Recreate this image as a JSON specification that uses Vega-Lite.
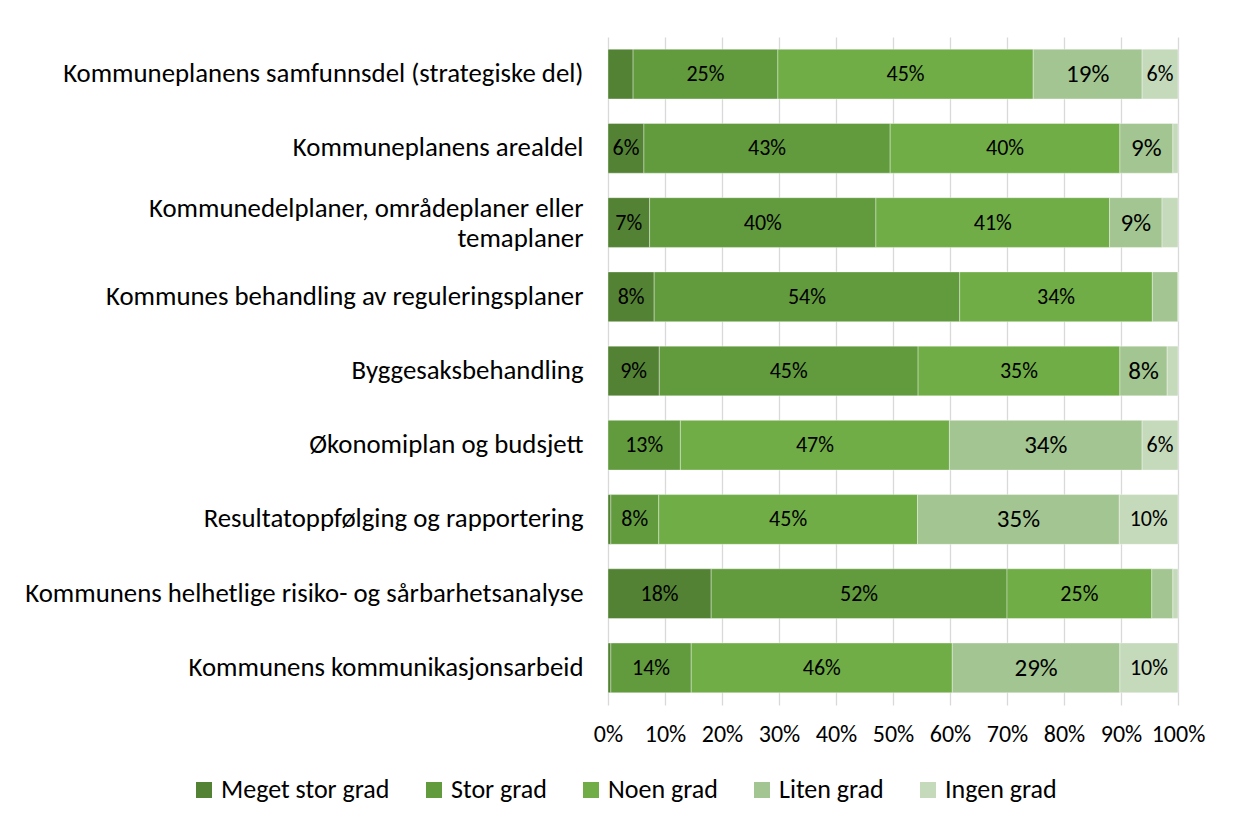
{
  "$schema": "https://vega.github.io/schema/vega-lite/v6.json",
  "width": 570,
  "height": 668,
  "autosize": {"type": "none"},
  "padding": {"left": 608, "top": 37, "right": 55, "bottom": 120},
  "background": "#ffffff",
  "config": {
    "font": "Carlito, Lato",
    "view": {"stroke": null}
  },
  "data": {
    "values": [
      {"item": "Kommuneplanens samfunnsdel (strategiske del)", "cat": "Meget stor grad", "v": 4.4},
      {"item": "Kommuneplanens samfunnsdel (strategiske del)", "cat": "Stor grad", "v": 25.4},
      {"item": "Kommuneplanens samfunnsdel (strategiske del)", "cat": "Noen grad", "v": 44.8},
      {"item": "Kommuneplanens samfunnsdel (strategiske del)", "cat": "Liten grad", "v": 19.1},
      {"item": "Kommuneplanens samfunnsdel (strategiske del)", "cat": "Ingen grad", "v": 6.3},
      {"item": "Kommuneplanens arealdel", "cat": "Meget stor grad", "v": 6.3},
      {"item": "Kommuneplanens arealdel", "cat": "Stor grad", "v": 43.2},
      {"item": "Kommuneplanens arealdel", "cat": "Noen grad", "v": 40.3},
      {"item": "Kommuneplanens arealdel", "cat": "Liten grad", "v": 9.3},
      {"item": "Kommuneplanens arealdel", "cat": "Ingen grad", "v": 0.9},
      {"item": "Kommunedelplaner, områdeplaner eller temaplaner", "cat": "Meget stor grad", "v": 7.3},
      {"item": "Kommunedelplaner, områdeplaner eller temaplaner", "cat": "Stor grad", "v": 39.7},
      {"item": "Kommunedelplaner, områdeplaner eller temaplaner", "cat": "Noen grad", "v": 41.0},
      {"item": "Kommunedelplaner, områdeplaner eller temaplaner", "cat": "Liten grad", "v": 9.2},
      {"item": "Kommunedelplaner, områdeplaner eller temaplaner", "cat": "Ingen grad", "v": 2.8},
      {"item": "Kommunes behandling av reguleringsplaner", "cat": "Meget stor grad", "v": 8.1},
      {"item": "Kommunes behandling av reguleringsplaner", "cat": "Stor grad", "v": 53.6},
      {"item": "Kommunes behandling av reguleringsplaner", "cat": "Noen grad", "v": 33.8},
      {"item": "Kommunes behandling av reguleringsplaner", "cat": "Liten grad", "v": 4.5},
      {"item": "Kommunes behandling av reguleringsplaner", "cat": "Ingen grad", "v": 0},
      {"item": "Byggesaksbehandling", "cat": "Meget stor grad", "v": 9.0},
      {"item": "Byggesaksbehandling", "cat": "Stor grad", "v": 45.4},
      {"item": "Byggesaksbehandling", "cat": "Noen grad", "v": 35.4},
      {"item": "Byggesaksbehandling", "cat": "Liten grad", "v": 8.3},
      {"item": "Byggesaksbehandling", "cat": "Ingen grad", "v": 1.9},
      {"item": "Økonomiplan og budsjett", "cat": "Meget stor grad", "v": 0},
      {"item": "Økonomiplan og budsjett", "cat": "Stor grad", "v": 12.7},
      {"item": "Økonomiplan og budsjett", "cat": "Noen grad", "v": 47.2},
      {"item": "Økonomiplan og budsjett", "cat": "Liten grad", "v": 33.8},
      {"item": "Økonomiplan og budsjett", "cat": "Ingen grad", "v": 6.3},
      {"item": "Resultatoppfølging og rapportering", "cat": "Meget stor grad", "v": 0.5},
      {"item": "Resultatoppfølging og rapportering", "cat": "Stor grad", "v": 8.4},
      {"item": "Resultatoppfølging og rapportering", "cat": "Noen grad", "v": 45.4},
      {"item": "Resultatoppfølging og rapportering", "cat": "Liten grad", "v": 35.4},
      {"item": "Resultatoppfølging og rapportering", "cat": "Ingen grad", "v": 10.3},
      {"item": "Kommunens helhetlige risiko- og sårbarhetsanalyse", "cat": "Meget stor grad", "v": 18.1},
      {"item": "Kommunens helhetlige risiko- og sårbarhetsanalyse", "cat": "Stor grad", "v": 51.9},
      {"item": "Kommunens helhetlige risiko- og sårbarhetsanalyse", "cat": "Noen grad", "v": 25.4},
      {"item": "Kommunens helhetlige risiko- og sårbarhetsanalyse", "cat": "Liten grad", "v": 3.7},
      {"item": "Kommunens helhetlige risiko- og sårbarhetsanalyse", "cat": "Ingen grad", "v": 0.9},
      {"item": "Kommunens kommunikasjonsarbeid", "cat": "Meget stor grad", "v": 0.5},
      {"item": "Kommunens kommunikasjonsarbeid", "cat": "Stor grad", "v": 14.1},
      {"item": "Kommunens kommunikasjonsarbeid", "cat": "Noen grad", "v": 45.8},
      {"item": "Kommunens kommunikasjonsarbeid", "cat": "Liten grad", "v": 29.4},
      {"item": "Kommunens kommunikasjonsarbeid", "cat": "Ingen grad", "v": 10.2}
    ]
  },
  "transform": [
    {"calculate": "indexof(['Meget stor grad','Stor grad','Noen grad','Liten grad','Ingen grad'], datum.cat)", "as": "ord"},
    {"stack": "v", "groupby": ["item"], "sort": [{"field": "ord", "order": "ascending"}], "as": ["v0", "v1"]},
    {"calculate": "(datum.v0 + datum.v1) / 2", "as": "mid"},
    {"calculate": "format(datum.v, '.0f') + '%'", "as": "lbl"}
  ],
  "encoding": {
    "y": {
      "field": "item",
      "type": "nominal",
      "sort": null,
      "scale": {"paddingInner": 0.33, "paddingOuter": 0.165},
      "axis": {
        "title": null,
        "domain": false,
        "ticks": false,
        "labelFontSize": 26.8,
        "labelColor": "#000000",
        "labelPadding": 25,
        "labelLimit": 700,
        "labelLineHeight": 30,
        "labelOffset": {"condition": {"test": "datum.value == 'Kommunedelplaner, områdeplaner eller temaplaner'", "value": -14}, "value": 0},
        "labelExpr": "datum.label == 'Kommunedelplaner, områdeplaner eller temaplaner' ? ['Kommunedelplaner, områdeplaner eller', 'temaplaner'] : datum.label"
      }
    }
  },
  "layer": [
    {
      "mark": {"type": "bar", "stroke": "#ffffff", "strokeWidth": 0.6, "strokeOpacity": 0.6},
      "encoding": {
        "x": {
          "field": "v0",
          "type": "quantitative",
          "scale": {"domain": [0, 100], "nice": false},
          "axis": {
            "title": null,
            "values": [0, 10, 20, 30, 40, 50, 60, 70, 80, 90, 100],
            "labelExpr": "datum.value + '%'",
            "grid": true,
            "gridColor": "#d9d9d9",
            "gridWidth": 1.3,
            "domain": false,
            "ticks": false,
            "labelFontSize": 24,
            "labelColor": "#000000",
            "labelPadding": 17,
            "labelFlush": false
          }
        },
        "x2": {"field": "v1"},
        "color": {
          "field": "cat",
          "type": "nominal",
          "scale": {
            "domain": ["Meget stor grad", "Stor grad", "Noen grad", "Liten grad", "Ingen grad"],
            "range": ["#548235", "#629a3e", "#70ad47", "#a3c591", "#c5dabb"]
          },
          "legend": {
            "title": null,
            "orient": "none",
            "direction": "horizontal",
            "legendX": -417,
            "legendY": 740,
            "symbolType": "square",
            "symbolSize": 256,
            "symbolStrokeWidth": 0,
            "labelFontSize": 26,
            "labelColor": "#000000",
            "labelOffset": 4,
            "columnPadding": 31,
            "labelLimit": 300
          }
        }
      }
    },
    {
      "transform": [{"filter": "datum.v >= 5 && datum.cat != 'Liten grad'"}],
      "mark": {"type": "text", "align": "center", "baseline": "middle", "color": "#000000", "fontSize": 22, "font": "Carlito, Lato"},
      "encoding": {
        "x": {"field": "mid", "type": "quantitative"},
        "text": {"field": "lbl"}
      }
    },
    {
      "transform": [{"filter": "datum.v >= 5 && datum.cat == 'Liten grad'"}],
      "mark": {"type": "text", "align": "center", "baseline": "middle", "color": "#000000", "fontSize": 25, "font": "Carlito, Lato"},
      "encoding": {
        "x": {"field": "mid", "type": "quantitative"},
        "text": {"field": "lbl"}
      }
    }
  ]
}
